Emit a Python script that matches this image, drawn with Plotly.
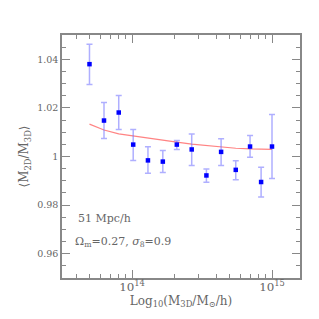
import plotly.graph_objects as go

# Data
mass = [4.97e13, 6.31e13, 8.04e13, 1.02e14, 1.30e14, 1.66e14, 2.09e14,
        2.67e14, 3.40e14, 4.33e14, 5.51e14, 6.97e14, 8.36e14, 1.00e15]
ratio = [1.0380, 1.0148, 1.0181, 1.0049, 0.9984, 0.9979, 1.0049,
         1.0029, 0.9922, 1.0019, 0.9945, 1.0041, 0.9895, 1.0041]
err_hi = [1.0462, 1.0222, 1.0251, 1.0111, 1.0040, 1.0025, 1.0066,
          1.0093, 0.9949, 1.0073, 0.9982, 1.0086, 0.9956, 1.0173]
err_lo = [1.0296, 1.0074, 1.0111, 0.9984, 0.9931, 0.9934, 1.0029,
          0.9963, 0.9894, 0.9963, 0.9904, 0.9997, 0.9833, 0.9909]
model = [1.0133, 1.0109, 1.0093, 1.0084, 1.0075, 1.0066, 1.0059,
         1.0051, 1.0045, 1.0038, 1.0034, 1.0031, 1.0030, 1.0029]

plus = [h - v for h, v in zip(err_hi, ratio)]
minus = [v - l for v, l in zip(ratio, err_lo)]

FONT = "DejaVu Serif"
GRAY = "#666666"

fig = go.Figure()
fig.add_trace(go.Scatter(
    x=mass, y=model, mode="lines",
    line=dict(color="rgba(255,90,90,0.75)", width=1.2),
    hoverinfo="skip", showlegend=False))
fig.add_trace(go.Scatter(
    x=mass, y=ratio, mode="markers",
    marker=dict(symbol="square", size=4.5, color="#0000ff"),
    error_y=dict(type="data", symmetric=False, array=plus, arrayminus=minus,
                 color="rgba(110,110,255,0.55)", thickness=1.5, width=3),
    showlegend=False))

fig.add_annotation(x=0.058, y=0.21, xref="paper", yref="paper",
                   text="51 Mpc/h", showarrow=False, xanchor="left",
                   font=dict(family=FONT, size=11, color=GRAY))
fig.add_annotation(x=0.045, y=0.11, xref="paper", yref="paper",
                   text="Ω<sub>m</sub>=0.27, <i>σ</i><sub>8</sub>=0.9",
                   showarrow=False, xanchor="left",
                   font=dict(family=FONT, size=11, color=GRAY))

fig.update_layout(
    width=319, height=319,
    margin=dict(l=54, r=27, t=27, b=49),
    paper_bgcolor="white", plot_bgcolor="white",
    font=dict(family=FONT, size=10, color=GRAY),
    xaxis=dict(
        type="log", range=[13.5, 15.2], dtick=1, exponentformat="power",
        ticks="inside", ticklen=8, tickcolor="#888", tickwidth=1,
        showline=True, linecolor="#888", linewidth=1.5, mirror="ticks",
        showgrid=False, zeroline=False, ticklabelstandoff=-3,
        minor=dict(ticks="inside", ticklen=4, dtick="D1", tickcolor="#888"),
        title=dict(text="Log<sub>10</sub>(M<sub>3D</sub>/M<sub>⊙</sub>/h)",
                   font=dict(family=FONT, size=12, color=GRAY), standoff=0),
        tickfont=dict(family=FONT, size=9.5, color=GRAY),
    ),
    yaxis=dict(
        range=[0.95, 1.05], tickvals=[0.96, 0.98, 1.0, 1.02, 1.04],
        ticktext=["0.96", "0.98", "1", "1.02", "1.04"],
        ticks="inside", ticklen=8, tickcolor="#888", tickwidth=1,
        showline=True, linecolor="#888", linewidth=1.5, mirror="ticks",
        showgrid=False, zeroline=False,
        minor=dict(ticks="inside", ticklen=4, dtick=0.005, tickcolor="#888"),
        title=dict(text="⟨M<sub>2D</sub>/M<sub>3D</sub>⟩",
                   font=dict(family=FONT, size=12, color=GRAY), standoff=6),
        tickfont=dict(family=FONT, size=9.5, color=GRAY),
    ),
)

fig.write_html("out.html")
